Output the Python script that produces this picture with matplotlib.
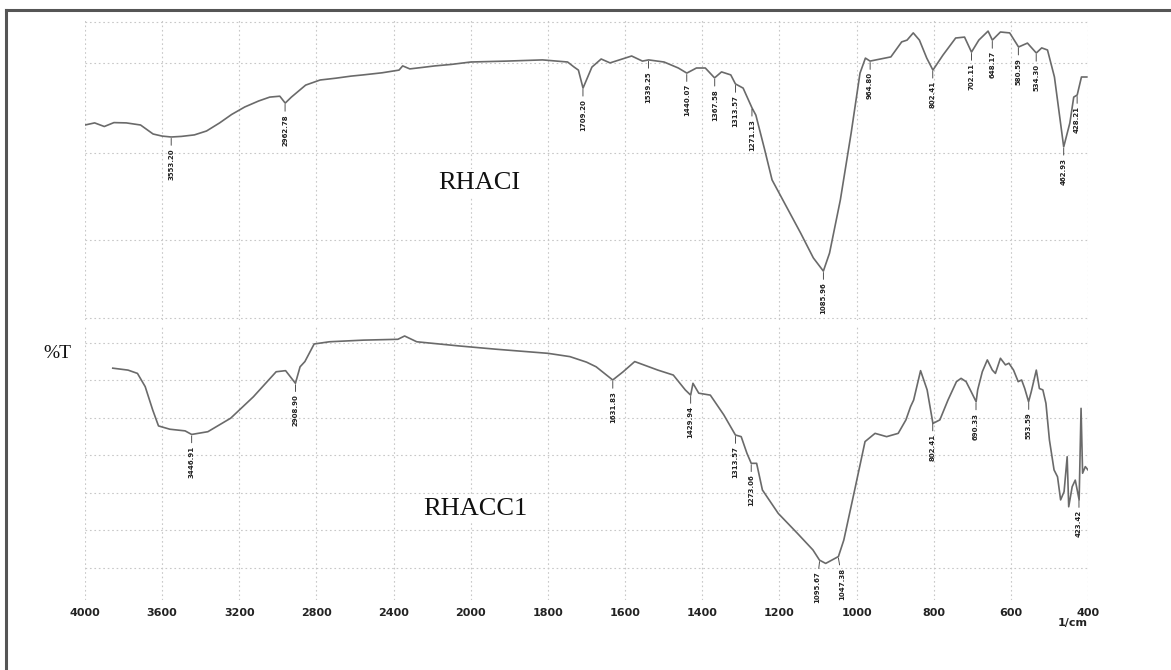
import numpy as np
import matplotlib
matplotlib.use("Agg")
import matplotlib.pyplot as plt
from matplotlib.lines import Line2D

# ---------------- data ----------------
# RHACI (upper spectrum): wavenumber (1/cm) and %T (panel-relative)
top_wn = [4000, 3950, 3900, 3850, 3786, 3712, 3647, 3600, 3553, 3500, 3433, 3370, 3302,
          3240, 3172, 3100, 3042, 2990, 2962, 2930, 2856, 2781, 2700, 2620, 2558,
          2460, 2372, 2353, 2316, 2250, 2186, 2100, 2000, 1907, 1814, 1749, 1732,
          1721, 1709, 1686, 1662, 1639, 1583, 1555, 1539, 1499, 1462, 1440, 1415,
          1392, 1368, 1350, 1326, 1314, 1294, 1271, 1261, 1238, 1219, 1191, 1145,
          1112, 1086, 1070, 1042, 1014, 991, 977, 965, 911, 883, 869, 853, 837,
          818, 802, 776, 743, 720, 702, 683, 659, 648, 627, 603, 580, 557, 534,
          520, 505, 487, 463, 447, 437, 428, 417, 403]
top_T = [65.0, 65.7, 64.5, 65.8, 65.7, 65.0, 62.0, 61.3, 61.0, 61.2, 61.7, 63.0, 65.7,
         68.5, 71.0, 73.0, 74.3, 74.6, 72.3, 74.3, 78.3, 80.0, 80.6, 81.3, 81.7,
         82.4, 83.3, 84.7, 83.7, 84.2, 84.7, 85.2, 86.0, 86.3, 86.7, 86.0, 84.3,
         83.3, 77.3, 84.3, 87.0, 85.7, 88.0, 86.3, 86.7, 86.0, 84.0, 82.3, 84.0,
         84.0, 80.7, 82.7, 81.7, 78.7, 77.3, 70.7, 68.3, 56.7, 46.7, 40.0, 29.0,
         20.7, 16.3, 22.3, 40.0, 62.3, 82.3, 87.3, 86.3, 87.7, 92.7, 93.3, 95.7, 93.3,
         87.3, 83.3, 88.3, 94.0, 94.3, 89.3, 93.3, 96.3, 93.3, 96.0, 95.7, 91.0, 92.3, 89.0,
         90.7, 90.0, 81.0, 57.7, 65.7, 74.3, 75.0, 81.0, 81.0]

# RHACC1 (lower spectrum)
bot_wn = [3856, 3777, 3728, 3688, 3649, 3619, 3560, 3481, 3447, 3363, 3245, 3127,
          3009, 2960, 2909, 2885, 2860, 2812, 2733, 2556, 2378, 2343, 2280, 2063,
          1935, 1800, 1743, 1700, 1675, 1632, 1605, 1575, 1515, 1475, 1444, 1430,
          1424, 1409, 1379, 1344, 1314, 1299, 1284, 1273, 1259, 1244, 1203, 1153,
          1113, 1096, 1080, 1047, 1033, 1003, 978, 952, 922, 892, 872, 860, 852,
          834, 817, 802, 784, 763, 741, 729, 716, 703, 690, 686, 674, 661, 648,
          640, 627, 614, 605, 593, 581, 572, 564, 554, 547, 534, 526, 517, 509,
          500, 488, 479, 471, 462, 454, 450, 441, 433, 423, 418, 414, 407, 400]
bot_T = [84.3, 83.6, 82.4, 77.6, 69.1, 63.3, 62.1, 61.5, 60.2, 61.2, 66.1, 73.9,
         83.0, 83.4, 78.8, 84.8, 86.7, 93.1, 93.9, 94.5, 94.8, 96.0, 93.9, 92.4,
         91.2, 89.7, 88.5, 86.5, 84.8, 80.0, 83.0, 86.7, 83.6, 81.8, 76.4, 74.5,
         78.8, 75.2, 74.5, 67.3, 60.0, 59.4, 53.3, 49.7, 49.7, 40.0, 31.5, 24.2,
         18.2, 14.5, 13.3, 15.8, 21.8, 41.2, 57.6, 60.6, 59.4, 60.6, 65.5, 70.3, 72.7,
         83.4, 76.4, 64.2, 65.5, 72.7, 79.4, 80.6, 79.4, 75.8, 72.1, 76.4, 83.0, 87.3, 83.6,
         82.4, 87.9, 85.5, 86.1, 83.6, 79.4, 80.0, 76.9, 72.1, 75.8, 83.6, 76.9, 76.4, 71.5,
         58.2, 47.3, 44.8, 36.4, 39.4, 52.1, 33.9, 41.2, 43.6, 36.4, 69.7, 46.1, 48.5, 47.3]

top_peaks = [3553.20, 2962.78, 1709.20, 1539.25, 1440.07, 1367.58, 1313.57, 1271.13,
             1085.96, 964.80, 802.41, 702.11, 648.17, 580.59, 534.30, 462.93, 428.21]
bot_peaks = [3446.91, 2908.90, 1631.83, 1429.94, 1313.57, 1273.06, 1095.67, 1047.38,
             802.41, 690.33, 553.59, 423.42]

tick_values = [4000, 3600, 3200, 2800, 2400, 2000, 1800, 1600, 1400, 1200, 1000, 800, 600, 400]
tick_labels = ["4000", "3600", "3200", "2800", "2400", "2000", "1800", "1600",
               "1400", "1200", "1000", "800", "600", "400"]

# ---------------- scale: 400 cm-1 per division above 2000, 200 below ----------------
def fwd(w):
    w = np.asarray(w, dtype=float)
    return np.where(w >= 2000, w / 400.0, 5.0 - (2000.0 - w) / 200.0)

def inv(p):
    p = np.asarray(p, dtype=float)
    return np.where(p >= 5.0, p * 400.0, 2000.0 - (5.0 - p) * 200.0)

W, H = 1171, 670
fig = plt.figure(figsize=(W / 100, H / 100), dpi=100)
fig.patch.set_facecolor("white")

# outer frame (top and left edges)
fig.add_artist(Line2D([6 / W, 1.0], [1 - 10 / H, 1 - 10 / H], color="#555555", lw=2.2))
fig.add_artist(Line2D([6 / W, 6 / W], [1 - 10 / H, 0.0], color="#555555", lw=2.2))

x0, x1 = 85 / W, 1088 / W
ax_top = fig.add_axes([x0, 1 - 320 / H, x1 - x0, 300 / H])
ax_bot = fig.add_axes([x0, 1 - 600 / H, x1 - x0, 275 / H])

grid_color = "#c8c8c8"
curve_color = "#6a6a6a"
label_font = ["Liberation Sans Narrow", "DejaVu Sans"]

def setup(ax, hgrid):
    ax.set_xscale("function", functions=(fwd, inv))
    ax.set_xlim(4000, 400)
    ax.set_ylim(0, 100)
    for s in ax.spines.values():
        s.set_visible(False)
    ax.set_xticks(tick_values)
    ax.set_yticks(hgrid)
    ax.tick_params(length=0, labelleft=False)
    ax.grid(True, color=grid_color, lw=0.8, ls=(0, (1.5, 2.5)))
    ax.set_facecolor("none")

setup(ax_top, [0.7, 26.7, 55.7, 85.7, 99.3])
setup(ax_bot, [11.6, 25.5, 38.9, 52.7, 66.2, 80.0, 93.5])

ax_top.tick_params(labelbottom=False)
ax_bot.set_xticklabels(tick_labels)
ax_bot.tick_params(axis="x", pad=6)
for lab in ax_bot.get_xticklabels():
    lab.set_fontsize(8)
    lab.set_fontweight("bold")
    lab.set_color("#222222")

ax_top.plot(top_wn, top_T, color=curve_color, lw=1.2)
ax_bot.plot(bot_wn, bot_T, color=curve_color, lw=1.2)

def label_peaks(ax, wn, T, peaks, offsets=None):
    wn_a = np.asarray(wn)[::-1]
    T_a = np.asarray(T)[::-1]
    for i, p in enumerate(peaks):
        yv = float(np.interp(p, wn_a, T_a))
        dx = 0 if offsets is None else offsets.get(i, 0)
        ax.annotate(f"{p:.2f}", xy=(p, yv), xytext=(dx, -8), textcoords="offset points",
                    rotation=90, ha="center", va="top", fontsize=5, fontweight="bold",
                    family=label_font, color="#222222",
                    arrowprops=dict(arrowstyle="-", lw=0.6, color="#333333",
                                    shrinkA=0, shrinkB=1))

label_peaks(ax_top, top_wn, top_T, top_peaks)
label_peaks(ax_bot, bot_wn, bot_T, bot_peaks, offsets={6: -2, 7: 3})

# sample names and axis captions
fig.text(479 / W, 1 - 183 / H, "RHACI", fontsize=19, family=["Liberation Serif", "DejaVu Serif"],
         ha="center", va="center", color="#111111",
         bbox=dict(facecolor="white", edgecolor="none", pad=2))
fig.text(475 / W, 1 - 509 / H, "RHACC1", fontsize=19, family=["Liberation Serif", "DejaVu Serif"],
         ha="center", va="center", color="#111111",
         bbox=dict(facecolor="white", edgecolor="none", pad=2))
fig.text(57 / W, 1 - 354 / H, "%T", fontsize=14, family=["Liberation Serif", "DejaVu Serif"],
         ha="center", va="center", color="#111111")
fig.text(1073 / W, 1 - 623 / H, "1/cm", fontsize=8, fontweight="bold",
         ha="center", va="center", color="#222222")

fig.savefig("out.png", dpi=100, facecolor="white")
